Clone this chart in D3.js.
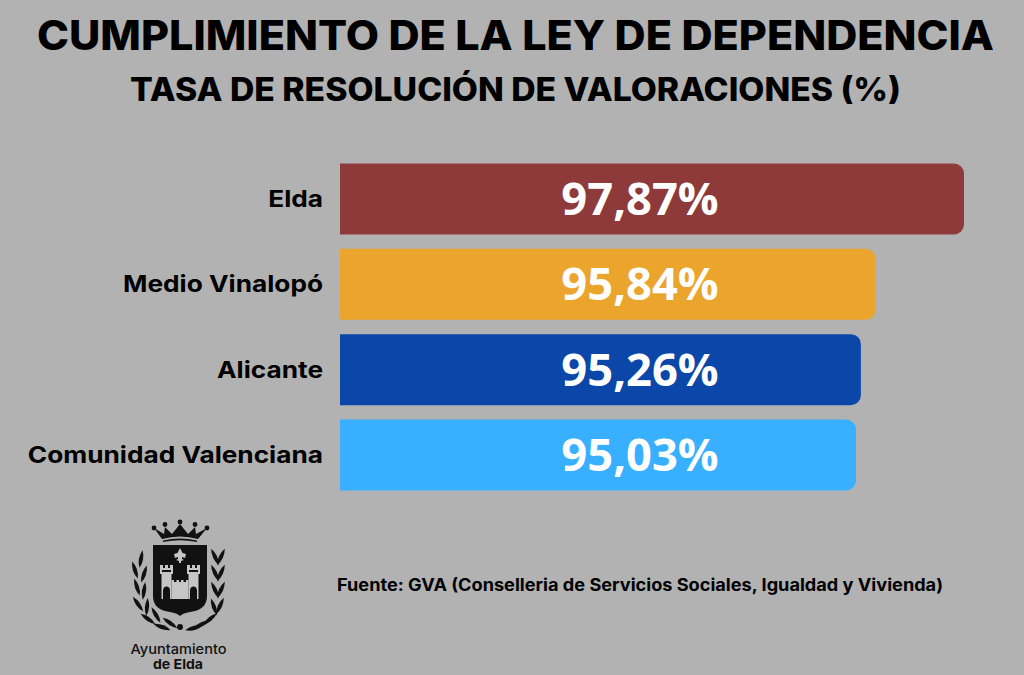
<!DOCTYPE html>
<html lang="es">
<head>
<meta charset="utf-8">
<title>Cumplimiento de la Ley de Dependencia</title>
<script src="https://cdn.jsdelivr.net/npm/d3@7"></script>
<style>
  html, body { margin: 0; padding: 0; background: #b2b2b2; }
  svg { display: block; }
  text { font-family: Inter, "Noto Sans", sans-serif; }
</style>
</head>
<body>
<svg id="chart" width="1024" height="675"></svg>
<script>
// Datos del gráfico
const territorios = ["Elda", "Medio Vinalopó", "Alicante", "Comunidad Valenciana"];
const tasas = [97.87, 95.84, 95.26, 95.03];
const colores = ["#8f3a3a", "#eba42c", "#0a47a8", "#38b0ff"];
const etiquetas = ["97,87%", "95,84%", "95,26%", "95,03%"];
const titulo = "CUMPLIMIENTO DE LA LEY DE DEPENDENCIA";
const subtitulo = "TASA DE RESOLUCIÓN DE VALORACIONES (%)";
const fuente = "Fuente: GVA (Conselleria de Servicios Sociales, Igualdad y Vivienda)";

const svg = d3.select("#chart");
const barLeft = 340;

// Escala de potencia: acentúa las diferencias entre tasas muy próximas
const x = d3.scalePow().exponent(40).domain([95.03, 97.87]).range([516, 624]);
const y = d3.scaleBand().domain(territorios).range([163.5, 490.5]).paddingInner(0.168).paddingOuter(0);

// Texto ajustado a un ancho dado
function fitted(sel, width) {
  return sel.attr("textLength", width).attr("lengthAdjust", "spacingAndGlyphs");
}

fitted(svg.append("text").attr("x", 37).attr("y", 49.5)
  .attr("font-size", 41).attr("font-weight", 800).attr("fill", "#000").text(titulo), 957);
fitted(svg.append("text").attr("x", 130).attr("y", 100.5)
  .attr("font-size", 32).attr("font-weight", 800).attr("fill", "#000").text(subtitulo), 771);

// Barras con el extremo derecho redondeado
const r = 10;
const bar = svg.append("g").selectAll("g").data(territorios).join("g");
bar.append("path")
  .attr("fill", (d, i) => colores[i])
  .attr("d", (d, i) => {
    const p = d3.path(), w = x(tasas[i]), t = y(d), h = y.bandwidth();
    p.moveTo(barLeft, t);
    p.lineTo(barLeft + w - r, t);
    p.arcTo(barLeft + w, t, barLeft + w, t + r, r);
    p.lineTo(barLeft + w, t + h - r);
    p.arcTo(barLeft + w, t + h, barLeft + w - r, t + h, r);
    p.lineTo(barLeft, t + h);
    p.closePath();
    return p.toString();
  });

// Nombres de territorio, algo ensanchados respecto a la fuente base
bar.append("text")
  .attr("x", 323).attr("y", d => y(d) + y.bandwidth() / 2 + 8)
  .attr("text-anchor", "end").attr("font-size", 23).attr("font-weight", 700).attr("fill", "#000")
  .text(d => d)
  .each(function () {
    fitted(d3.select(this), this.getComputedTextLength() * 1.14);
  });

bar.append("text")
  .attr("x", 640).attr("y", d => y(d) + y.bandwidth() / 2 + 16)
  .attr("text-anchor", "middle").attr("font-size", 45.3).attr("font-weight", 700).attr("fill", "#fff")
  .style("font-family", '"Open Sans", sans-serif')
  .text((d, i) => etiquetas[i]);

fitted(svg.append("text").attr("x", 337).attr("y", 591)
  .attr("font-size", 17).attr("font-weight", 700).attr("fill", "#000").text(fuente), 606);

// Escudo municipal
const escudo = svg.append("g").attr("transform", "translate(110,510)").attr("fill", "#111");
// Corona
escudo.append("path").attr("d", "M44 18 L54 24 L55 17 L62 24 L70 14 L78 24 L85 17 L86 24 L97 18 L88 29 Q70 24 52 29 Z");
escudo.selectAll("circle.perla").data([[44, 18], [55, 14.5], [70, 12], [85, 14.5], [97, 18]]).join("circle")
  .attr("cx", d => d[0]).attr("cy", d => d[1]).attr("r", 2.4);
escudo.append("path").attr("d", "M53 30.5 Q70 26.5 87 30.5 L87 32 Q70 28.5 53 32 Z");
// Blasón
escudo.append("path").attr("d", "M43 35 H97 V86 Q97 100 80 102 Q73 103 70 106 Q67 103 60 102 Q43 100 43 86 Z");
// Flor de lis
const claro = "#c6c6c6";
escudo.append("path").attr("fill", claro).attr("d", "M70 38 L72.5 43 L76 44 L75 48 L72 47 L72 49 L74 50 L71 51 L71 53 H69 L69 51 L66 50 L68 49 L68 47 L65 48 L64 44 L67.5 43 Z");
// Castillo: dos torres almenadas y lienzo central, con sus puertas
escudo.append("path").attr("fill", claro).attr("d",
  "M50 64 V55 H53 V58 H55 V55 H58 V58 H60 V55 H63 V64 H61.5 V89 H51.5 V64 Z");
escudo.append("path").attr("fill", claro).attr("d",
  "M77 64 V55 H80 V58 H82 V55 H85 V58 H87 V55 H90 V64 H88.5 V89 H78.5 V64 Z");
escudo.append("path").attr("fill", claro).attr("d",
  "M61.5 70 H64 V72 H66.5 V70 H69 V72 H71 V70 H73.5 V72 H76 V70 H78.5 V89 H61.5 Z");
escudo.selectAll("path.puerta").data([56.5, 83.5]).join("path")
  .attr("fill", "#111")
  .attr("d", d => `M${d - 3.5} 89 V81 A3.5 4.5 0 0 1 ${d + 3.5} 81 V89 Z`);
escudo.selectAll("rect.ventana").data([[52, 60], [79, 60]]).join("rect")
  .attr("x", d => d[0]).attr("y", d => d[1]).attr("width", 9).attr("height", 2).attr("fill", "#111");
// Laureles
const hojas = [
  [31, 49, 10], [25, 60, -18], [34, 64, 18], [27, 77, -18], [34, 81, 8], [28, 94, -35], [37, 97, 5],
  [38, 109, -55], [46, 105, -30], [52, 117, -70], [60, 113, -55],
  [105, 47, -25], [111, 47, 25], [105, 63, -25], [111, 63, 25], [105, 80, -25], [111, 80, 25], [104, 97, -20], [110, 96, 25],
  [100, 109, 50], [92, 114, 65], [84, 118, 75]
];
escudo.selectAll("path.hoja").data(hojas).join("path")
  .attr("transform", d => `translate(${d[0]},${d[1]}) rotate(${d[2]})`)
  .attr("d", "M0 -9 Q4.2 0 0 9 Q-4.2 0 0 -9 Z");
escudo.append("circle").attr("cx", 70).attr("cy", 117).attr("r", 3);

fitted(svg.append("text").attr("x", 130.5).attr("y", 654)
  .attr("font-size", 13.5).attr("font-weight", 500).attr("fill", "#111").text("Ayuntamiento"), 96);
fitted(svg.append("text").attr("x", 153).attr("y", 668.5)
  .attr("font-size", 13.5).attr("font-weight", 700).attr("fill", "#111").text("de Elda"), 50);
</script>
</body>
</html>
